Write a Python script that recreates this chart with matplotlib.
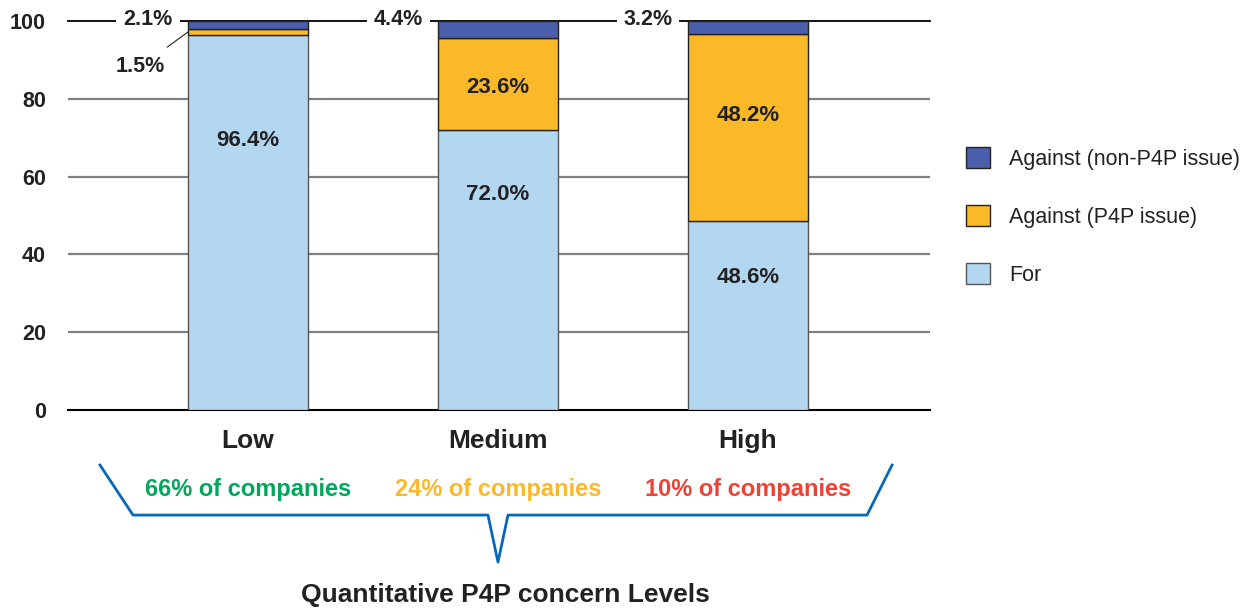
import matplotlib
matplotlib.use("Agg")
from matplotlib import pyplot as plt
from matplotlib.patches import Patch
from matplotlib.lines import Line2D

plt.rcParams['font.family'] = ['Liberation Sans Narrow', 'Liberation Sans', 'DejaVu Sans']

# data
levels = ['Low', 'Medium', 'High']
pct_for = [96.4, 72.0, 48.6]
pct_against_p4p = [1.5, 23.6, 48.2]
pct_against_other = [2.1, 4.4, 3.2]
company_share = ['66% of companies', '24% of companies', '10% of companies']
series_names = ['Against (non-P4P issue)', 'Against (P4P issue)', 'For']

c_for = '#b3d7f0'
c_p4p = '#fbb829'
c_other = '#4a5eab'
share_colors = ['#00a65a', '#fbb829', '#ef4136']
bracket_col = '#0868b8'

fig = plt.figure(figsize=(12.57, 6.12), dpi=100)
ax = fig.add_axes([0.0541, 0.330, 0.6858, 0.6356])

x = list(range(len(levels)))
w = 0.48
ax.bar(x, pct_for, w, color=c_for, edgecolor='#555555', linewidth=1, zorder=3)
bot2 = pct_for
ax.bar(x, pct_against_p4p, w, bottom=bot2, color=c_p4p, edgecolor='#222222', linewidth=1, zorder=3)
bot3 = [a + b for a, b in zip(pct_for, pct_against_p4p)]
ax.bar(x, pct_against_other, w, bottom=bot3, color=c_other, edgecolor='#222222', linewidth=1, zorder=3)

ax.set_xlim(-0.72, 2.728)
ax.set_ylim(0, 100)
for s in ['top', 'right', 'left']:
    ax.spines[s].set_visible(False)
ax.spines['bottom'].set_linewidth(1.5)
ax.spines['bottom'].set_color('black')
for yv in [20, 40, 60, 80]:
    ax.axhline(yv, color='#808080', lw=1.6, zorder=1)
ax.axhline(100, color='black', lw=1.3, zorder=1, clip_on=False)

ax.set_yticks([0, 20, 40, 60, 80, 100])
ax.set_yticklabels(['0', '20', '40', '60', '80', '100'], fontsize=15.5, fontweight='bold')
ax.tick_params(axis='y', length=0, pad=16, labelcolor='#222222')
ax.set_xticks(x)
ax.set_xticklabels(levels, fontsize=19, fontweight='bold')
ax.tick_params(axis='x', length=0, pad=14, labelcolor='#222222')

# labels inside bars (layout y positions)
for_y = [69.4, 55.3, 34.2]
p4p_y = [None, 82.8, 75.8]
for i in x:
    ax.text(i, for_y[i], f'{pct_for[i]:.1f}%', ha='center', va='center',
            fontsize=16, fontweight='bold', color='#222222', zorder=5)
    if p4p_y[i] is not None:
        ax.text(i, p4p_y[i], f'{pct_against_p4p[i]:.1f}%', ha='center', va='center',
                fontsize=16, fontweight='bold', color='#222222', zorder=5)
    ax.text(i - 0.4, 100.3, f'{pct_against_other[i]:.1f}%', ha='center', va='center',
            fontsize=15.5, fontweight='bold', color='#222222', zorder=5,
            bbox=dict(facecolor='white', edgecolor='none', pad=5))

ax.annotate(f'{pct_against_p4p[0]:.1f}%', xy=(-0.24, 97.2), xytext=(-0.432, 88.2),
            ha='center', va='center', fontsize=15.5, fontweight='bold', color='#222222',
            arrowprops=dict(arrowstyle='-', color='#222222', lw=0.8,
                            shrinkA=8, shrinkB=0), annotation_clip=False)

# bracket under the categories
bx = [0.0371, 0.0754, 0.4872, 0.4988, 0.5104, 0.9269, 0.9559]
by = [-0.1414, -0.270, -0.270, -0.391, -0.270, -0.270, -0.1414]
ax.add_line(Line2D(bx, by, transform=ax.transAxes, color=bracket_col, lw=2,
                   clip_on=False))
for i in x:
    ax.text(i, -0.203, company_share[i], transform=ax.get_xaxis_transform(),
            ha='center', va='center', fontsize=17, fontweight='bold',
            color=share_colors[i])
fig.text(505 / 1257, 1 - 595 / 612, 'Quantitative P4P concern Levels', ha='center',
         va='center', fontsize=19, fontweight='bold', color='#222222')

handles = [Patch(facecolor=c_other, edgecolor='#222222'),
           Patch(facecolor=c_p4p, edgecolor='#222222'),
           Patch(facecolor=c_for, edgecolor='#555555')]
fig.legend(handles, series_names, loc='upper left',
           bbox_to_anchor=(966 / 1257, 1 - 147 / 612), frameon=False,
           fontsize=15.5, handlelength=1.1, handleheight=1.1,
           handletextpad=0.9, labelspacing=1.65, borderpad=0, borderaxespad=0,
           labelcolor='#222222')

fig.savefig('out.png', dpi=100)
